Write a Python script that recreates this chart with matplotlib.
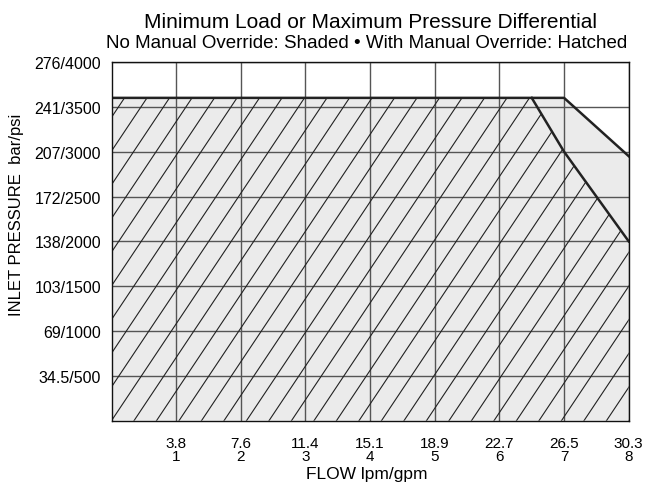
import matplotlib
matplotlib.use("Agg")
import matplotlib.pyplot as plt
import numpy as np
from matplotlib.patches import Polygon

plt.rcParams['font.family'] = ['Liberation Sans', 'DejaVu Sans']

# Data
flow_gpm = [1, 2, 3, 4, 5, 6, 7, 8]
flow_lpm = ["3.8", "7.6", "11.4", "15.1", "18.9", "22.7", "26.5", "30.3"]
pressure_psi = [500, 1000, 1500, 2000, 2500, 3000, 3500, 4000]
pressure_bar = ["34.5", "69", "103", "138", "172", "207", "241", "276"]

# Boundary of shaded region (no manual override)
shaded_x = [0, 7, 8]
shaded_y = [3600, 3600, 2950]
# Boundary of hatched region (with manual override)
hatched_x = [0, 6.5, 7, 8]
hatched_y = [3600, 3600, 3000, 2000]

W, H = 650, 485
fig = plt.figure(figsize=(6.5, 4.85), dpi=100)
L, R, T, B = 111.5, 628.7, 63, 421.7
ax = fig.add_axes([L/W, 1-B/H, (R-L)/W, (B-T)/H])
ax.set_xlim(0, 8)
ax.set_ylim(0, 4000)

# shaded polygon
sp = list(zip(shaded_x, shaded_y)) + [(8, 0), (0, 0)]
ax.add_patch(Polygon(sp, closed=True, facecolor='#ebebeb', edgecolor='none', zorder=1))

# grid
for x in flow_gpm:
    ax.axvline(x, color='#555555', lw=1.0, zorder=2)
for y in pressure_psi:
    ax.axhline(y, color='#555555', lw=1.0, zorder=2)

# hatched polygon with custom hatch lines
hp = list(zip(hatched_x, hatched_y)) + [(8, 0), (0, 0)]
hpoly = Polygon(hp, closed=True, facecolor='none', edgecolor='none', zorder=3)
ax.add_patch(hpoly)
slope = 1080.0
step = 0.348
for k in range(-40, 40):
    x0 = k * step
    xs = np.array([x0, x0 + 4500 / slope])
    ys = (xs - x0) * slope
    ln, = ax.plot(xs, ys, color='#222222', lw=0.8, zorder=3)
    ln.set_clip_path(hpoly)

# boundary lines
ax.plot(shaded_x, shaded_y, color='#222222', lw=1.8, zorder=4)
ax.plot(hatched_x[1:], hatched_y[1:], color='#222222', lw=1.8, zorder=4)

for s in ax.spines.values():
    s.set_color('#111111')
    s.set_linewidth(1.0)
    s.set_zorder(5)

ax.set_xticks(flow_gpm)
ax.set_xticklabels([f"{l}\n{g}" for l, g in zip(flow_lpm, flow_gpm)], linespacing=0.95)
ax.set_yticks(pressure_psi)
ax.set_yticklabels([f"{b}/{p}" for b, p in zip(pressure_bar, pressure_psi)])
ax.tick_params(length=0, labelsize=11)
ax.tick_params(axis='y', pad=7.5, labelsize=11.5)
ax.tick_params(axis='x', pad=11)

fig.text(367/W, 1-479/H, "FLOW lpm/gpm", ha='center', va='baseline', fontsize=12.5)
fig.text(17/W, 1-215/H, "INLET PRESSURE  bar/psi", ha='center', va='center',
         rotation=90, fontsize=12)

fig.text(370/W, 1-27.5/H, "Minimum Load or Maximum Pressure Differential",
         ha='center', va='baseline', fontsize=15)
fig.text(367/W, 1-47.5/H, "No Manual Override: Shaded \u2022 With Manual Override: Hatched",
         ha='center', va='baseline', fontsize=13.5)

fig.savefig("out.png", dpi=100)
